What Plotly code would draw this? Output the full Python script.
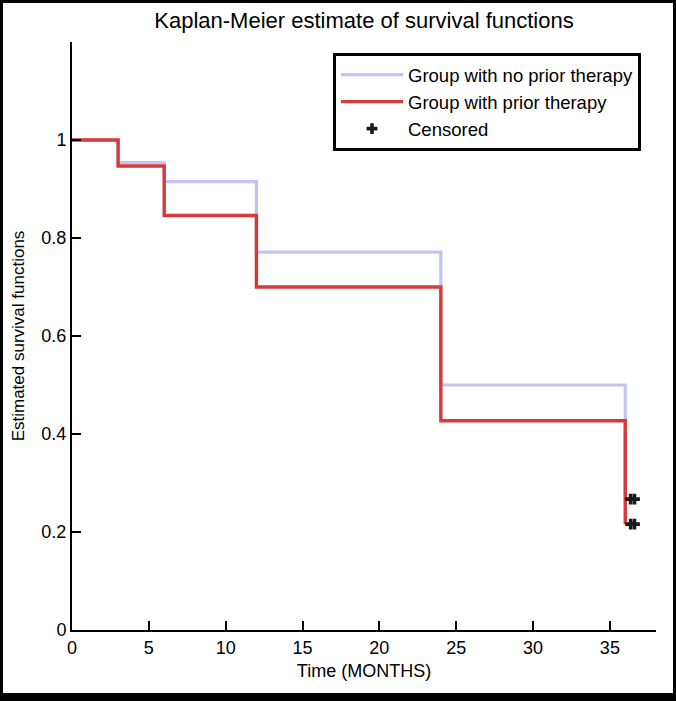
import plotly.graph_objects as go

# Data
time_no_prior = [0, 3, 6, 12, 24, 36]
surv_no_prior = [1.0, 0.954, 0.915, 0.771, 0.500, 0.267]

time_prior = [0, 3, 6, 12, 24, 36]
surv_prior = [1.0, 0.947, 0.846, 0.700, 0.427, 0.216]

censor_time = [36.35, 36.6, 36.35, 36.6]
censor_surv = [0.267, 0.267, 0.216, 0.216]

x_ticks = [0, 5, 10, 15, 20, 25, 30, 35]
y_ticks = [0, 0.2, 0.4, 0.6, 0.8, 1]
y_tick_labels = ["0", "0.2", "0.4", "0.6", "0.8", "1"]

W, H = 676, 701
ML, MR, MT, MB = 72, 20, 42, 71
PW, PH = W - ML - MR, H - MT - MB


def px_x(p):
    return (p - ML) / PW


def px_y(p):
    return (H - MB - p) / PH


FONT = "Liberation Sans, Arial, sans-serif"

fig = go.Figure()
fig.add_trace(go.Scatter(
    x=time_no_prior, y=surv_no_prior, mode="lines", line_shape="hv",
    line=dict(color="#c3c3f5", width=3.2),
    name="Group with no prior therapy",
))
fig.add_trace(go.Scatter(
    x=time_prior, y=surv_prior, mode="lines", line_shape="hv",
    line=dict(color="#d63a3a", width=3.4),
    name="Group with prior therapy",
))
fig.add_trace(go.Scatter(
    x=censor_time, y=censor_surv, mode="markers",
    marker=dict(symbol="cross", size=9, color="#1a1a1a",
                line=dict(width=0)),
    name="Censored",
))

fig.update_layout(
    width=W, height=H,
    margin=dict(l=ML, r=MR, t=MT, b=MB, autoexpand=False),
    paper_bgcolor="black",
    plot_bgcolor="rgba(0,0,0,0)",
    font=dict(family=FONT, color="black", size=18),
    title=dict(
        text="Kaplan-Meier estimate of survival functions",
        x=0.5, xref="paper", xanchor="center",
        y=1 - 20 / H, yref="container", yanchor="middle",
        font=dict(size=22, family=FONT, color="black"),
    ),
    showlegend=True,
    legend=dict(
        x=px_x(333), y=px_y(53), xanchor="left", yanchor="top",
        xref="paper", yref="paper",
        bgcolor="white", bordercolor="black", borderwidth=3,
        font=dict(size=18.5, family=FONT, color="black"),
        itemwidth=62,
        tracegroupgap=0,
    ),
    xaxis=dict(
        range=[0, 38], tickvals=x_ticks, ticks="inside", ticklen=9,
        tickwidth=2, tickcolor="black", showline=True, linecolor="black",
        linewidth=2, showgrid=False, zeroline=False,
        tickfont=dict(size=18, family=FONT),
        title=dict(text="Time (MONTHS)", font=dict(size=18, family=FONT),
                   standoff=8),
    ),
    yaxis=dict(
        range=[0, 1.2], tickvals=y_ticks, ticktext=y_tick_labels,
        ticks="inside", ticklen=9, tickwidth=2, tickcolor="black",
        showline=True, linecolor="black", linewidth=2, showgrid=False,
        zeroline=False, tickfont=dict(size=18, family=FONT),
        title=dict(text="Estimated survival functions",
                   font=dict(size=17, family=FONT), standoff=12),
    ),
    shapes=[dict(
        type="rect", xref="paper", yref="paper", layer="below",
        x0=px_x(3), x1=px_x(673), y0=px_y(3), y1=px_y(693),
        fillcolor="white", line=dict(width=0),
    )],
)

fig.write_html(
    "out.html",
    config={"displayModeBar": False},
    post_script="document.body.style.margin='0px';"
                "document.body.style.overflow='hidden';",
)
